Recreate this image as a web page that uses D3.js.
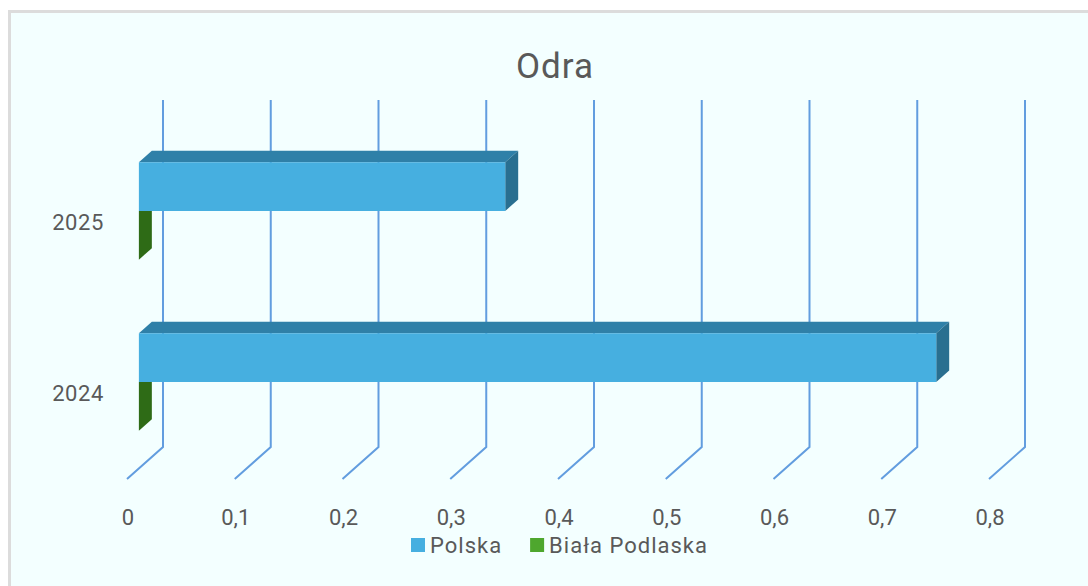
<!DOCTYPE html>
<html>
<head>
<meta charset="utf-8"/>
<script src="https://cdnjs.cloudflare.com/ajax/libs/d3/7.8.5/d3.min.js"></script>
<style>
  body { margin: 0; background: #fff; }
  text { font-family: Roboto, "Liberation Sans", sans-serif; fill: #595959; }
</style>
</head>
<body>
<script>
// chart data
const categories = ['2025', '2024'];           // top to bottom
const seriesNames = ['Polska', 'Biała Podlaska'];
const polska = [0.34, 0.74];                   // per category above
const bialaPodlaska = [0, 0];
const xTicks = [0, 0.1, 0.2, 0.3, 0.4, 0.5, 0.6, 0.7, 0.8];

const series = [polska, bialaPodlaska];
const colors = [
  { front: '#46afe0', top: '#2f80a8', side: '#296f90', legend: '#46afe0' },
  { front: '#3a8a1c', top: '#2f6e17', side: '#2e6b16', legend: '#4ea72e' }
];

const W = 1088, H = 586;
const svg = d3.select('body').append('svg')
  .attr('width', W).attr('height', H);

// panel
svg.append('rect').attr('x', 8).attr('y', 10).attr('width', W - 8).attr('height', H - 10)
  .attr('fill', '#f3ffff');
svg.append('line').attr('x1', 9.5).attr('y1', 10).attr('x2', 9.5).attr('y2', H)
  .attr('stroke', '#dcdcdc').attr('stroke-width', 3);
svg.append('line').attr('x1', 8).attr('y1', 11.5).attr('x2', W).attr('y2', 11.5)
  .attr('stroke', '#dcdcdc').attr('stroke-width', 3);

// 3d box: back wall + depth vector (oblique)
const wallTop = 100, wallBottom = 447;
const depth = { dx: -36, dy: 32 };
const x = d3.scaleLinear().domain([0, 0.8]).range([163, 1025]);
const y = d3.scaleBand().domain(categories).range([104, 446]).paddingInner(0.43).paddingOuter(0.215);
const ySer = d3.scaleBand().domain(d3.range(series.length)).range([0, y.bandwidth()]);
const zBack = 0.31, zFront = 0.67;

const P = (px, py, z) => [px + depth.dx * z, py + depth.dy * z];
const poly = pts => 'M' + pts.map(p => p.join(',')).join('L') + 'Z';

// gridlines: back wall vertical + floor diagonal
const grid = svg.append('g');
xTicks.forEach(t => {
  const bx = x(t);
  const f = P(bx, wallBottom, 1);
  grid.append('path')
    .attr('d', `M${bx},${wallTop}L${bx},${wallBottom}L${f[0]},${f[1]}`)
    .attr('fill', 'none').attr('stroke', '#629ddf').attr('stroke-width', 2);
});

// bars, drawn bottom to top so upper bars cover lower ones
const bars = svg.append('g');
for (let ci = categories.length - 1; ci >= 0; ci--) {
  for (let si = series.length - 1; si >= 0; si--) {
    const v = series[si][ci];
    const y0 = y(categories[ci]) + ySer(si), y1 = y0 + ySer.bandwidth();
    const x0 = x(0), x1 = x(v);
    const c = colors[si];
    // top face
    bars.append('path').attr('fill', c.top)
      .attr('d', poly([P(x0, y0, zFront), P(x1, y0, zFront), P(x1, y0, zBack), P(x0, y0, zBack)]));
    // end face
    bars.append('path').attr('fill', c.side)
      .attr('d', poly([P(x1, y0, zFront), P(x1, y0, zBack), P(x1, y1, zBack), P(x1, y1, zFront)]));
    // front face
    bars.append('path').attr('fill', c.front)
      .attr('d', poly([P(x0, y0, zFront), P(x1, y0, zFront), P(x1, y1, zFront), P(x0, y1, zFront)]));
  }
}

// x tick labels on front floor edge
svg.append('g').selectAll('text').data(xTicks).join('text')
  .attr('x', d => P(x(d), wallBottom, 1)[0] + 1)
  .attr('y', 525)
  .attr('text-anchor', 'middle')
  .attr('font-size', 22)
  .text(d => d === 0 ? '0' : d3.format('.1f')(d).replace('.', ','));

// category labels
svg.append('g').selectAll('text').data(categories).join('text')
  .attr('x', 104)
  .attr('y', d => P(0, y(d) + y.bandwidth() / 2, 1)[1] + 8)
  .attr('text-anchor', 'end')
  .attr('font-size', 22)
  .attr('letter-spacing', 0.6)
  .text(d => d);

// title
svg.append('text').attr('x', 555).attr('y', 78).attr('text-anchor', 'middle')
  .attr('font-size', 35).attr('letter-spacing', 1).text('Odra');

// legend
const legend = svg.append('g');
let lx = 411;
seriesNames.forEach((name, i) => {
  legend.append('rect').attr('x', lx).attr('y', 538).attr('width', 14).attr('height', 14)
    .attr('fill', colors[i].legend);
  const t = legend.append('text').attr('x', lx + 19).attr('y', 553).attr('font-size', 22)
    .attr('letter-spacing', 1).text(name);
  lx += 19 + t.node().getComputedTextLength() + 28;
});
</script>
</body>
</html>
